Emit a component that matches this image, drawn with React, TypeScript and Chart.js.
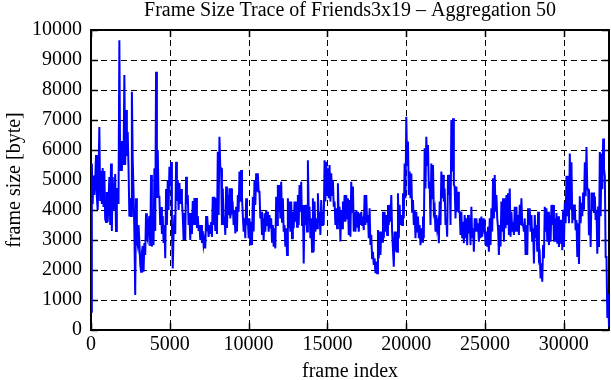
import React, { useEffect, useRef } from "react";
import { Chart, registerables } from "chart.js";

Chart.register(...registerables);

const TITLE = "Frame Size Trace of Friends3x19 – Aggregation 50";
const X_LABEL = "frame index";
const Y_LABEL = "frame size [byte]";
const X_MAX = 32870;
const Y_MAX = 10000;
const X_TICKS = [0, 5000, 10000, 15000, 20000, 25000, 30000];
const Y_TICKS = [0, 1000, 2000, 3000, 4000, 5000, 6000, 7000, 8000, 9000, 10000];

// frame size (byte), aggregated left to right
const frameSize = [
  610, 5550, 4200, 5150, 4500, 4900, 5830, 4440, 4000, 5000, 6770, 4300, 5300, 4200, 5400, 4100, 5300, 3700,
  3600, 4600, 3600, 4300, 5100, 3500, 5550, 3300, 5100, 4000, 4200, 5200, 3300, 4700, 4700, 4200, 9660, 5300,
  6300, 5300, 6200, 5500, 8500, 5500, 7330, 5800, 6600, 5400, 3780, 4400, 3800, 7940, 5720, 4600, 3280, 1170,
  4390, 3000, 2830, 3500, 2940, 2200, 1940, 2600, 2800, 1940, 2900, 2500, 3890, 3100, 3000, 3600, 3800, 2800,
  // ~3000 – 9500
  5170, 2780, 3830, 2830, 5390, 3300, 8610, 4400, 6000, 4440, 4440, 3500, 4100, 3200, 3800, 2900, 3500, 2390,
  4700, 3500, 5000, 4000, 5440, 4800, 5600, 3500, 2050, 3200, 3830, 3200, 5610, 4300, 5000, 4000, 4900, 4200,
  4700, 4300, 3800, 3000, 3900, 3000, 5110, 4200, 4500, 3500, 3900, 3000, 3900, 3200, 4300, 3500, 4400, 3500,
  4400, 3400, 3800, 3300, 3500, 3000, 3500, 2900, 3300, 2830, 3000, 2720, 3800, 3300, 3500, 3100, 3500, 3200,
  3600, 3100, 4440, 3500, 4440, 3300,
  // ~7700 – 13900
  4400, 3200, 5940, 3830, 6440, 5400, 5390, 3500, 4720, 3500, 3780, 3170, 4780, 3400, 4500, 3830, 4720, 3720,
  4720, 4000, 4110, 3500, 4000, 3220, 4110, 3280, 4500, 3940, 5280, 4280, 5330, 4440, 3830, 3280, 3720, 3060,
  4390, 3500, 3720, 3060, 3720, 2830, 3610, 2830, 4440, 3280, 5000, 4170, 5220, 4610, 5220, 4610, 4610, 3720,
  3940, 3170, 3720, 3000, 3890, 3280, 4000, 3500, 3940, 3280, 3830, 3390, 3720, 2940, 3500, 2780, 3390, 2720,
  4440, 3500, 4830, 3940, 4830, 3720,
  // ~13900 – 18000
  4940, 3610, 4390, 3280, 3500, 2780, 3390, 2500, 4390, 3390, 4280, 3280, 4280, 3060, 3940, 3390, 4280, 3610,
  4280, 3440, 4500, 3500, 4830, 3940, 4940, 3500, 4170, 2220, 4170, 3500, 4170, 3280, 5660, 3940, 4110, 3060,
  3720, 2610, 4390, 2610, 4280, 3280, 3720, 3390, 4560, 3720, 3940, 3170, 4330, 3500, 3940, 3500, 5660, 4280,
  5610, 4500, 5390, 4390, 5500, 4280, 5220, 4500, 5000, 4110, 4280, 3500, 4060, 3390, 4890, 3780, 4110, 2950,
  4000, 3390, 4280, 3610, 4500, 3610,
  // ~18000 – 22100
  4500, 3720, 4390, 3170, 4330, 3110, 4940, 3940, 4780, 3280, 3940, 3280, 4000, 3440, 3940, 3280, 3890, 3500,
  3940, 3500, 3780, 3330, 4500, 3500, 4500, 3610, 3830, 3060, 4060, 2830, 3170, 2390, 2610, 2170, 2390, 1890,
  2280, 1890, 3330, 2390, 3280, 2500, 3280, 2940, 3940, 3060, 3940, 3280, 3830, 3170, 4170, 3500, 4170, 3610,
  4500, 3280, 3280, 2110, 3280, 2610, 3280, 2610, 4560, 3060, 4170, 3500, 3830, 3500, 4560, 3720, 5550, 4390,
  7110, 5500, 6280, 4500, 5280, 4390,
  // ~22100 – 26200
  5220, 3940, 4330, 3500, 4000, 3060, 3940, 3280, 3780, 3060, 3500, 2830, 3390, 2940, 3780, 3060, 6060, 4720,
  6440, 5500, 6170, 4720, 4940, 3500, 5550, 4390, 5500, 3940, 4060, 3280, 3830, 3390, 3560, 2890, 4280, 3500,
  5280, 4390, 5170, 4280, 4720, 3500, 3720, 3110, 5170, 4500, 5170, 3500, 7000, 5280, 7060, 4830, 4780, 3720,
  4780, 3940, 4610, 3940, 3940, 3170, 3940, 3060, 3610, 2890, 3830, 3060, 3720, 2830, 3830, 3220, 3720, 2830,
  4110, 3060, 3390, 2610, 3720, 3280,
  // ~26200 – 30000
  3720, 3280, 3560, 2940, 3720, 3060, 3780, 3110, 3720, 3390, 3500, 2830, 3280, 2780, 3440, 2610, 3720, 2830,
  4060, 3280, 5060, 3720, 5170, 3940, 4500, 3720, 3390, 2500, 3500, 2780, 4280, 3280, 4390, 2940, 4390, 3390,
  4500, 3500, 4560, 3170, 4720, 3110, 3940, 3280, 3610, 3170, 4110, 3280, 4110, 3280, 3830, 3170, 4170, 3500,
  4390, 3500, 3500, 3280, 3720, 2500, 3500, 2500, 4060, 3500, 4060, 3280, 3830, 2940, 3390, 2220, 3830, 3060,
  // ~30000 – end
  3500, 2610, 3940, 2390, 2500, 1720, 2220, 1610, 2830, 2390, 4110, 3280, 4060, 2940, 3940, 2830, 3830, 2940,
  4170, 3500, 4170, 2940, 3720, 2940,
  3900, 2880, 3790, 2770, 3670, 2880, 3670, 2660, 4010, 2770, 4240, 3560, 5140, 3790, 5140, 3560, 5880, 4010,
  5590, 3560, 4180, 3670, 4180, 3330, 3670, 2430, 3560, 2200, 4460, 3560, 4240, 3790, 4580, 4010, 5590, 4460,
  6100, 4690, 4690, 3160, 4010, 2770, 4580, 4010, 4580, 3900, 4460, 3670, 4010, 2540, 4120, 2770, 5930, 3790,
  5880, 4690, 6385, 5370, 5140, 2430, 2430, 400, 1200, 100,
];

const FONT = "'Liberation Serif', 'Times New Roman', serif";
const FONT_SIZE = 20;

export default function App() {
  const ref = useRef<HTMLCanvasElement>(null);

  useEffect(() => {
    document.body.style.margin = "0";
    const canvas = ref.current;
    if (!canvas) return;
    const step = X_MAX / (frameSize.length - 1);
    const points = frameSize.map((v, i) => ({ x: i * step, y: v }));

    const framePlugin = {
      id: "gnuplotFrame",
      beforeDatasetsDraw(chart: any) {
        const { ctx, chartArea: a, scales } = chart;
        const xs = scales.x;
        const ys = scales.y;
        ctx.save();
        ctx.strokeStyle = "#000";
        ctx.lineWidth = 1;
        ctx.setLineDash([6, 4]);
        for (const t of X_TICKS) {
          if (t <= 0 || t >= X_MAX) continue;
          const px = Math.round(xs.getPixelForValue(t)) + 0.5;
          ctx.beginPath();
          ctx.moveTo(px, a.top);
          ctx.lineTo(px, a.bottom);
          ctx.stroke();
        }
        for (const t of Y_TICKS) {
          if (t <= 0 || t >= Y_MAX) continue;
          const py = Math.round(ys.getPixelForValue(t)) + 0.5;
          ctx.beginPath();
          ctx.moveTo(a.left, py);
          ctx.lineTo(a.right, py);
          ctx.stroke();
        }
        ctx.setLineDash([]);
        ctx.lineWidth = 1.5;
        const TL = 7;
        for (const t of X_TICKS) {
          const px = Math.round(xs.getPixelForValue(t)) + 0.5;
          ctx.beginPath();
          ctx.moveTo(px, a.bottom);
          ctx.lineTo(px, a.bottom - TL);
          ctx.moveTo(px, a.top);
          ctx.lineTo(px, a.top + TL);
          ctx.stroke();
        }
        for (const t of Y_TICKS) {
          const py = Math.round(ys.getPixelForValue(t)) + 0.5;
          ctx.beginPath();
          ctx.moveTo(a.left, py);
          ctx.lineTo(a.left + TL, py);
          ctx.moveTo(a.right, py);
          ctx.lineTo(a.right - TL, py);
          ctx.stroke();
        }
        ctx.lineWidth = 2;
        ctx.strokeRect(a.left, a.top, a.right - a.left, a.bottom - a.top);
        ctx.restore();
      },
      afterDraw(chart: any) {
        const { ctx, chartArea: a } = chart;
        const cx = (a.left + a.right) / 2;
        ctx.save();
        ctx.fillStyle = "#000";
        ctx.font = `${FONT_SIZE}px ${FONT}`;
        ctx.textAlign = "center";
        ctx.textBaseline = "alphabetic";
        ctx.fillText(TITLE, cx, 16);
        ctx.fillText(X_LABEL, cx, 377);
        ctx.translate(15, (a.top + a.bottom) / 2);
        ctx.rotate(-Math.PI / 2);
        ctx.textBaseline = "middle";
        ctx.fillText(Y_LABEL, 0, 0);
        ctx.restore();
      },
    };

    const chart = new Chart(canvas, {
      type: "line",
      data: {
        datasets: [
          {
            data: points,
            borderColor: "#0000ff",
            borderWidth: 2,
            pointRadius: 0,
            tension: 0,
            fill: false,
          },
        ],
      },
      options: {
        responsive: false,
        animation: false,
        devicePixelRatio: 1,
        layout: { padding: { top: 30, right: 2, left: 0, bottom: 0 } },
        plugins: { legend: { display: false }, title: { display: false }, tooltip: { enabled: false } },
        scales: {
          x: {
            type: "linear",
            min: 0,
            max: X_MAX,
            afterBuildTicks: (s: any) => {
              s.ticks = X_TICKS.map((v) => ({ value: v }));
            },
            afterFit: (s: any) => {
              s.height = 50;
            },
            grid: { display: false, drawTicks: false },
            border: { display: false },
            ticks: {
              color: "#000",
              padding: 3,
              maxRotation: 0,
              autoSkip: false,
              font: { family: FONT, size: FONT_SIZE },
              callback: (v: any) => String(v),
            },
          },
          y: {
            type: "linear",
            min: 0,
            max: Y_MAX,
            afterBuildTicks: (s: any) => {
              s.ticks = Y_TICKS.map((v) => ({ value: v }));
            },
            afterFit: (s: any) => {
              s.width = 91;
            },
            grid: { display: false, drawTicks: false },
            border: { display: false },
            ticks: {
              color: "#000",
              padding: 9,
              autoSkip: false,
              font: { family: FONT, size: FONT_SIZE },
              callback: (v: any) => String(v),
            },
          },
        },
      },
      plugins: [framePlugin],
    });
    return () => chart.destroy();
  }, []);

  return <canvas ref={ref} width={611} height={380} style={{ display: "block" }} />;
}
